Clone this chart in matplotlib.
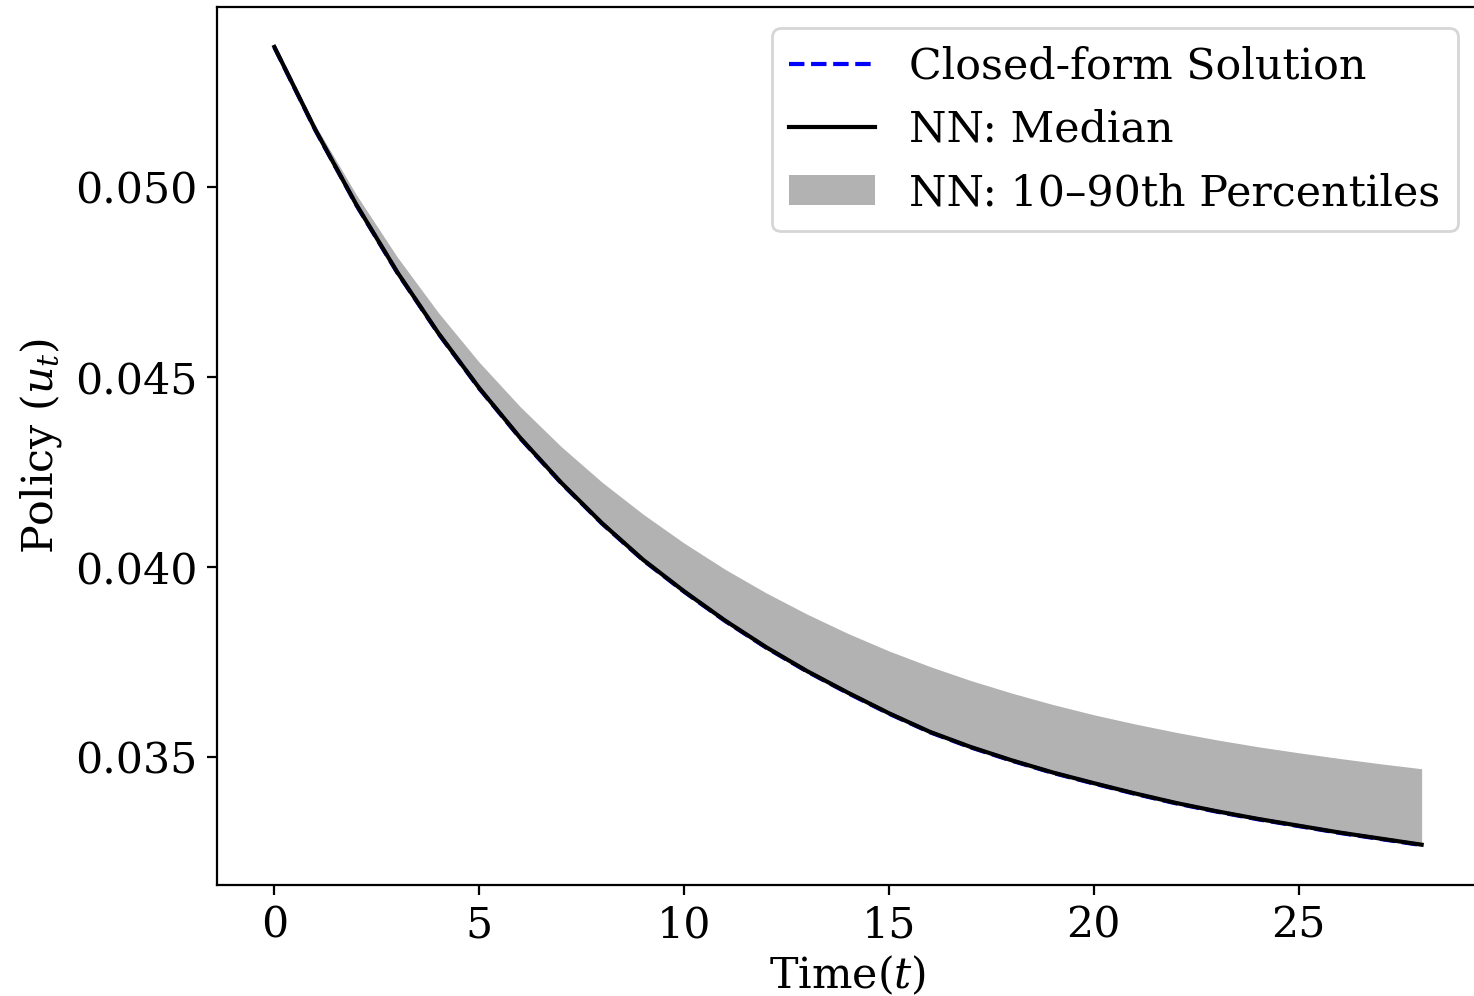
import matplotlib
matplotlib.use("Agg")
import matplotlib.pyplot as plt

plt.rcParams.update({
    "font.family": "DejaVu Serif",
    "mathtext.fontset": "dejavuserif",
    "font.size": 15.4,
})

# values (t = 0..28)
t = list(range(29))
median = [0.05368, 0.05150, 0.04953, 0.04775, 0.04615, 0.04470, 0.04339,
          0.04221, 0.04114, 0.04018, 0.03935, 0.03858, 0.03788, 0.03725,
          0.03668, 0.03614, 0.03565, 0.03525, 0.03490, 0.03458, 0.03430,
          0.03403, 0.03378, 0.03356, 0.03336, 0.03318, 0.03300, 0.03284,
          0.03268]
closed_form = [0.05367, 0.05149, 0.04952, 0.04774, 0.04614, 0.04469, 0.04338,
               0.04220, 0.04113, 0.04017, 0.03934, 0.03857, 0.03787, 0.03724,
               0.03667, 0.03613, 0.03564, 0.03524, 0.03489, 0.03457, 0.03429,
               0.03402, 0.03377, 0.03355, 0.03335, 0.03317, 0.03299, 0.03283,
               0.03267]
p10 = [0.05367, 0.05149, 0.04952, 0.04774, 0.04614, 0.04469, 0.04338,
       0.04220, 0.04113, 0.04017, 0.03934, 0.03857, 0.03787, 0.03724,
       0.03667, 0.03613, 0.03564, 0.03524, 0.03489, 0.03457, 0.03429,
       0.03402, 0.03377, 0.03355, 0.03335, 0.03317, 0.03299, 0.03283,
       0.03267]
p90 = [0.05368, 0.05162, 0.04979, 0.04815, 0.04669, 0.04538, 0.04421,
       0.04316, 0.04222, 0.04138, 0.04062, 0.03993, 0.03931, 0.03875,
       0.03824, 0.03778, 0.03737, 0.03700, 0.03667, 0.03637, 0.03610,
       0.03586, 0.03564, 0.03544, 0.03526, 0.03510, 0.03495, 0.03481,
       0.03468]

fig = plt.figure(figsize=(7.37, 4.98), dpi=200)
ax = fig.add_axes([217 / 1474, 1 - 885 / 996, (1479 - 217) / 1474, (885 - 7) / 996])

band = ax.fill_between(t, p10, p90, color="black", alpha=0.3, linewidth=0,
                       label="NN: 10\u201390th Percentiles")
cf, = ax.plot(t, closed_form, "--", color="blue", linewidth=1.5,
              label="Closed-form Solution")
med, = ax.plot(t, median, "-", color="black", linewidth=1.5,
               label="NN: Median")

ax.set_xlabel("Time($t$)", labelpad=2.5)
ax.set_ylabel("Policy ($u_t$)")
ax.set_xticks([0, 5, 10, 15, 20, 25])
ax.set_yticks([0.035, 0.040, 0.045, 0.050])

ax.legend(handles=[cf, med, band], loc="upper right")

fig.savefig("out.png", dpi=200)
